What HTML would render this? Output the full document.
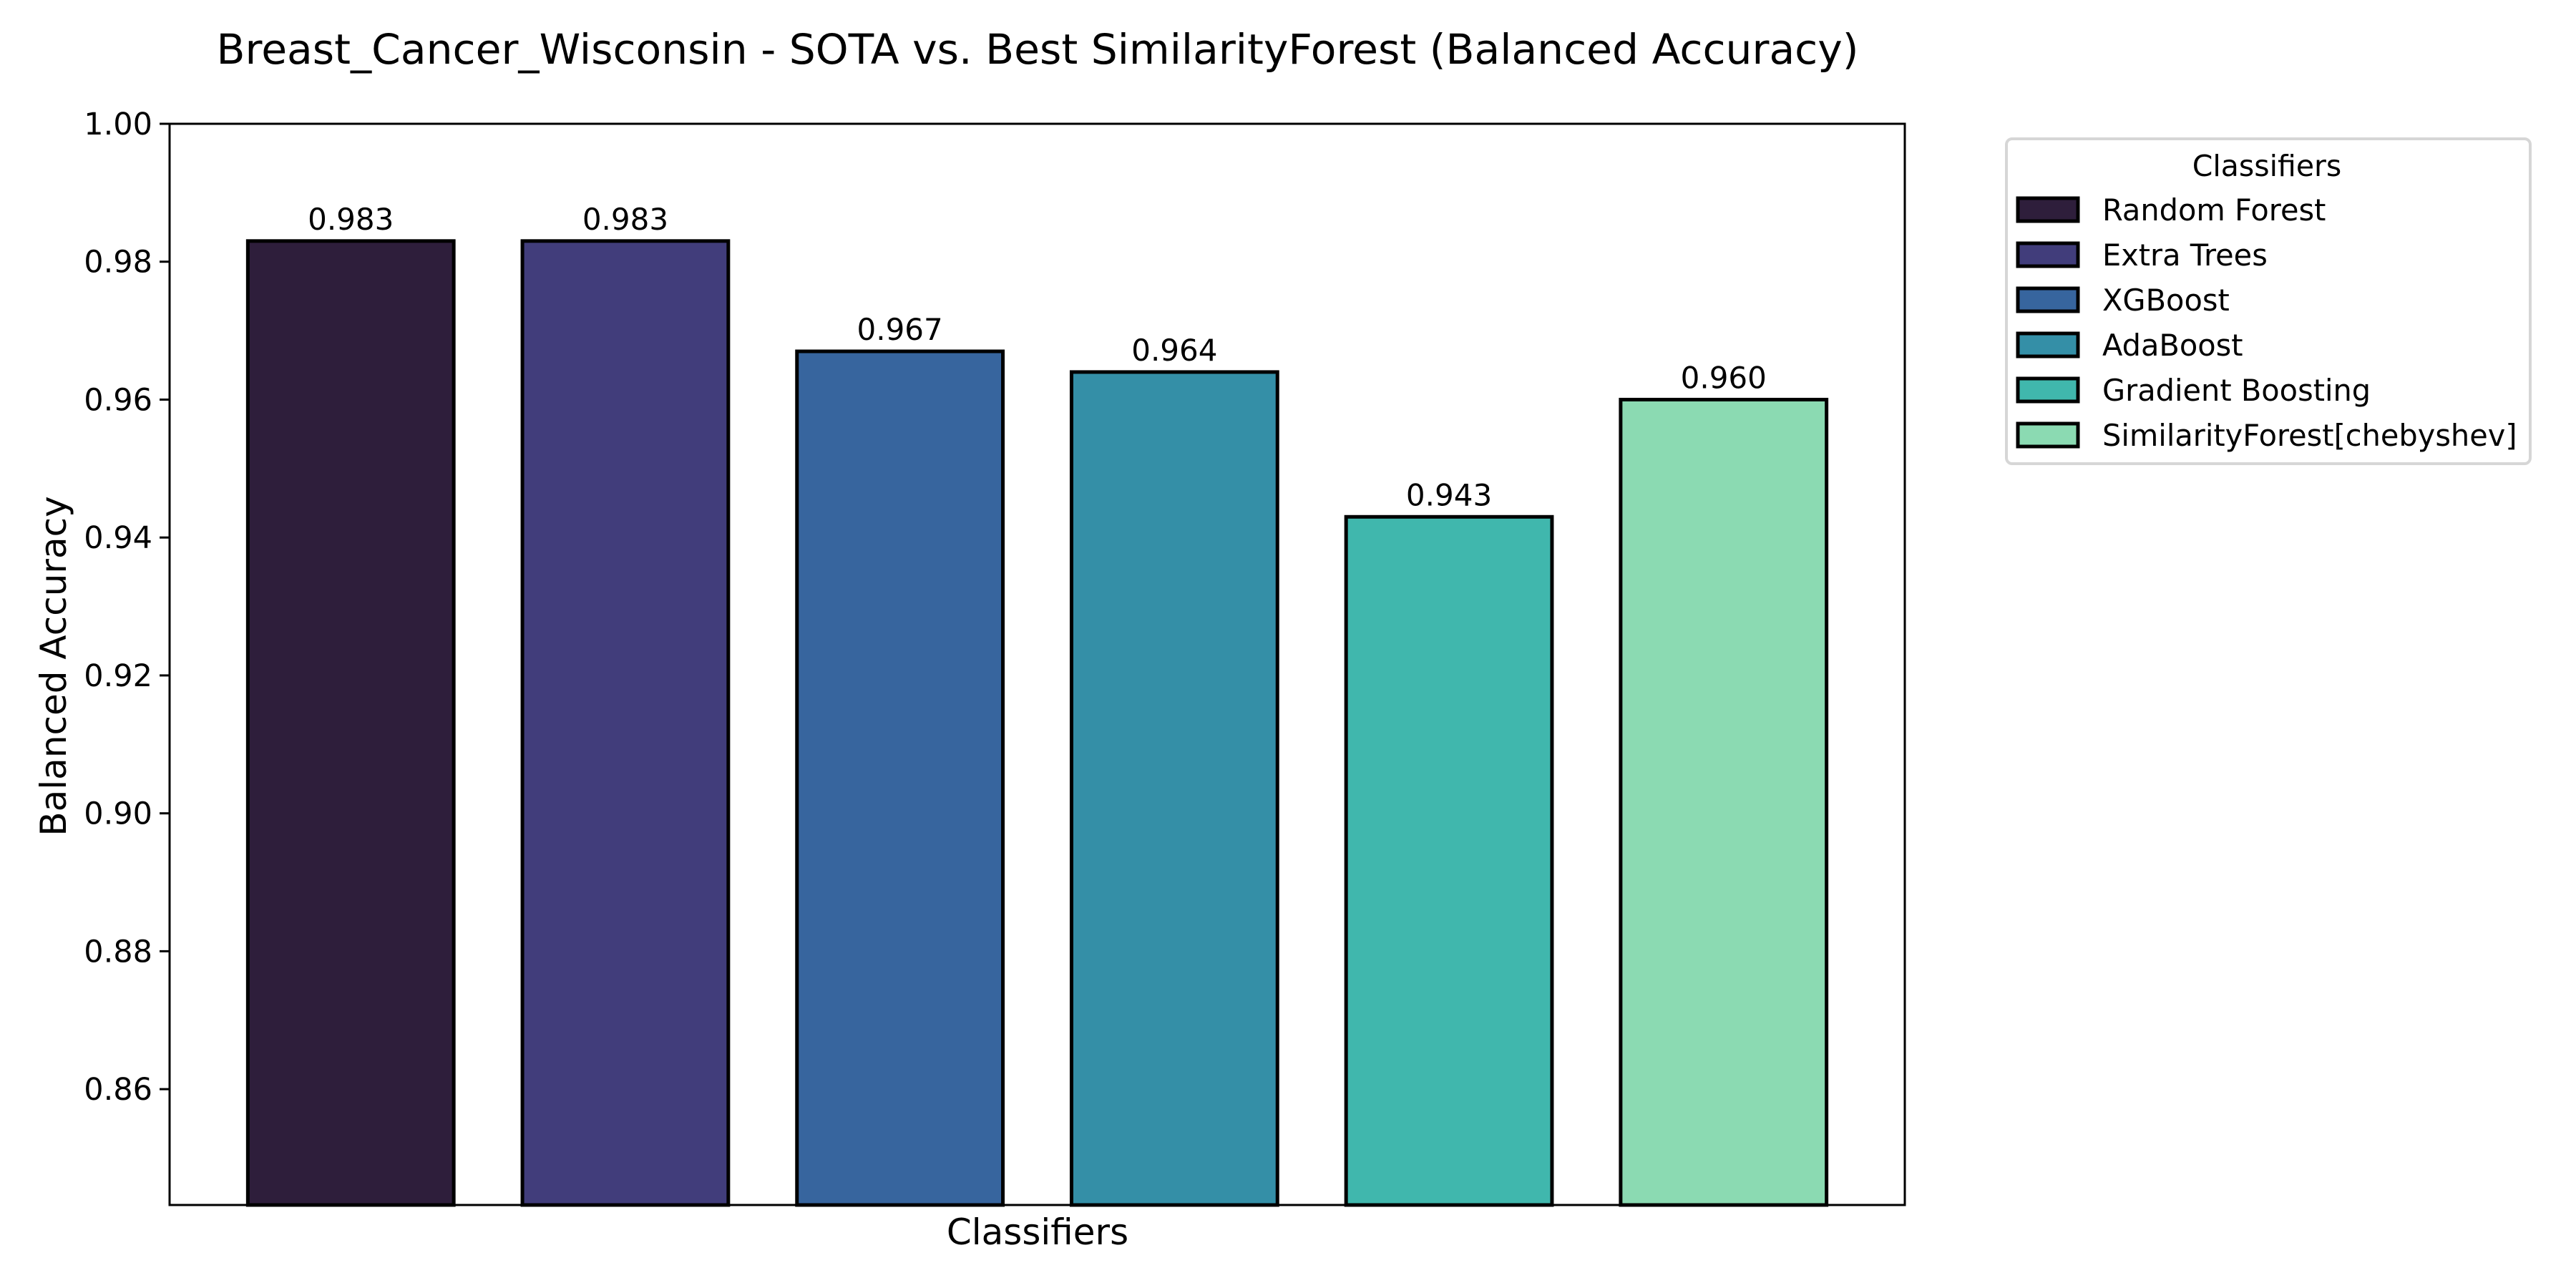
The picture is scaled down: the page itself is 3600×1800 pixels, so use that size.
<!DOCTYPE html>
<html><head><meta charset="utf-8"><style>
html,body{margin:0;padding:0;background:#fff;}
svg{display:block;font-family:"DejaVu Sans","Liberation Sans",sans-serif;}
</style></head><body>
<svg id="chart" width="3600" height="1800" viewBox="0 0 3600 1800" xmlns="http://www.w3.org/2000/svg">
<rect x="0" y="0" width="3600" height="1800" fill="#fff"/>
<text x="1450" y="89" font-size="58.3" text-anchor="middle">Breast_Cancer_Wisconsin - SOTA vs. Best SimilarityForest (Balanced Accuracy)</text>
<text x="1450" y="1739" font-size="50" text-anchor="middle">Classifiers</text>
<text transform="translate(92,931) rotate(-90)" font-size="50" text-anchor="middle">Balanced Accuracy</text>
<g id="bars"></g>
<g id="yticks"></g>
<rect x="237" y="173" width="2425" height="1511" fill="none" stroke="#000" stroke-width="3"/>
<g id="legend">
<rect x="2804" y="194" width="732" height="454" rx="8" fill="#fff" stroke="#d6d6d6" stroke-width="4"/>
<text x="3168" y="246" font-size="41" text-anchor="middle">Classifiers</text>
</g>
</svg>
<script>
const categories = ["Random Forest","Extra Trees","XGBoost","AdaBoost","Gradient Boosting","SimilarityForest[chebyshev]"];
const values = [0.983,0.983,0.967,0.964,0.943,0.960];
const valueLabels = ["0.983","0.983","0.967","0.964","0.943","0.960"];
const colors = ["#2e1e3b","#413d7b","#37659e","#348fa7","#40b7ad","#8bdab2"];
const yTicks = [0.86,0.88,0.90,0.92,0.94,0.96,0.98,1.00];
const yTickLabels = ["0.86","0.88","0.90","0.92","0.94","0.96","0.98","1.00"];

const NS="http://www.w3.org/2000/svg";
const plot={left:237,right:2662,top:173,bottom:1684};
const yMin=0.8432,yMax=1.0,xMin=-0.66,xMax=categories.length-1+0.66;
function yScale(v){return plot.bottom-(v-yMin)/(yMax-yMin)*(plot.bottom-plot.top);}
function xScale(i){return plot.left+(i-xMin)/(xMax-xMin)*(plot.right-plot.left);}
const bw=0.75*(xScale(1)-xScale(0));
function mk(tag,attrs,parent){const e=document.createElementNS(NS,tag);for(const k in attrs)e.setAttribute(k,attrs[k]);parent.appendChild(e);return e;}

const gb=document.getElementById('bars');
values.forEach((v,i)=>{
  const cx=xScale(i),yt=yScale(v);
  const r=mk('rect',{x:cx-bw/2,y:yt,width:bw,height:plot.bottom-yt,fill:colors[i],stroke:'#000','stroke-width':5},gb);
  
  
  const t=mk('text',{x:cx,y:yt-16,'font-size':42,'text-anchor':'middle'},gb);
  t.textContent=valueLabels[i];
  
  
});

const gy=document.getElementById('yticks');
yTicks.forEach((v,i)=>{
  const y=yScale(v);
  const l=mk('line',{x1:plot.left-14,x2:plot.left,y1:y,y2:y,stroke:'#000','stroke-width':3},gy);
  
  
  const t=mk('text',{x:plot.left-24,y:y+15,'font-size':43,'text-anchor':'end'},gy);
  t.textContent=yTickLabels[i];
  
  
});

const gl=document.getElementById('legend');
categories.forEach((c,i)=>{
  const cy=293+i*63;
  const r=mk('rect',{x:2820,y:cy-16,width:84,height:32,fill:colors[i],stroke:'#000','stroke-width':5},gl);
  
  
  const t=mk('text',{x:2938,y:cy+15,'font-size':41.5},gl);
  t.textContent=c;
  
  
});
</script>
</body></html>
